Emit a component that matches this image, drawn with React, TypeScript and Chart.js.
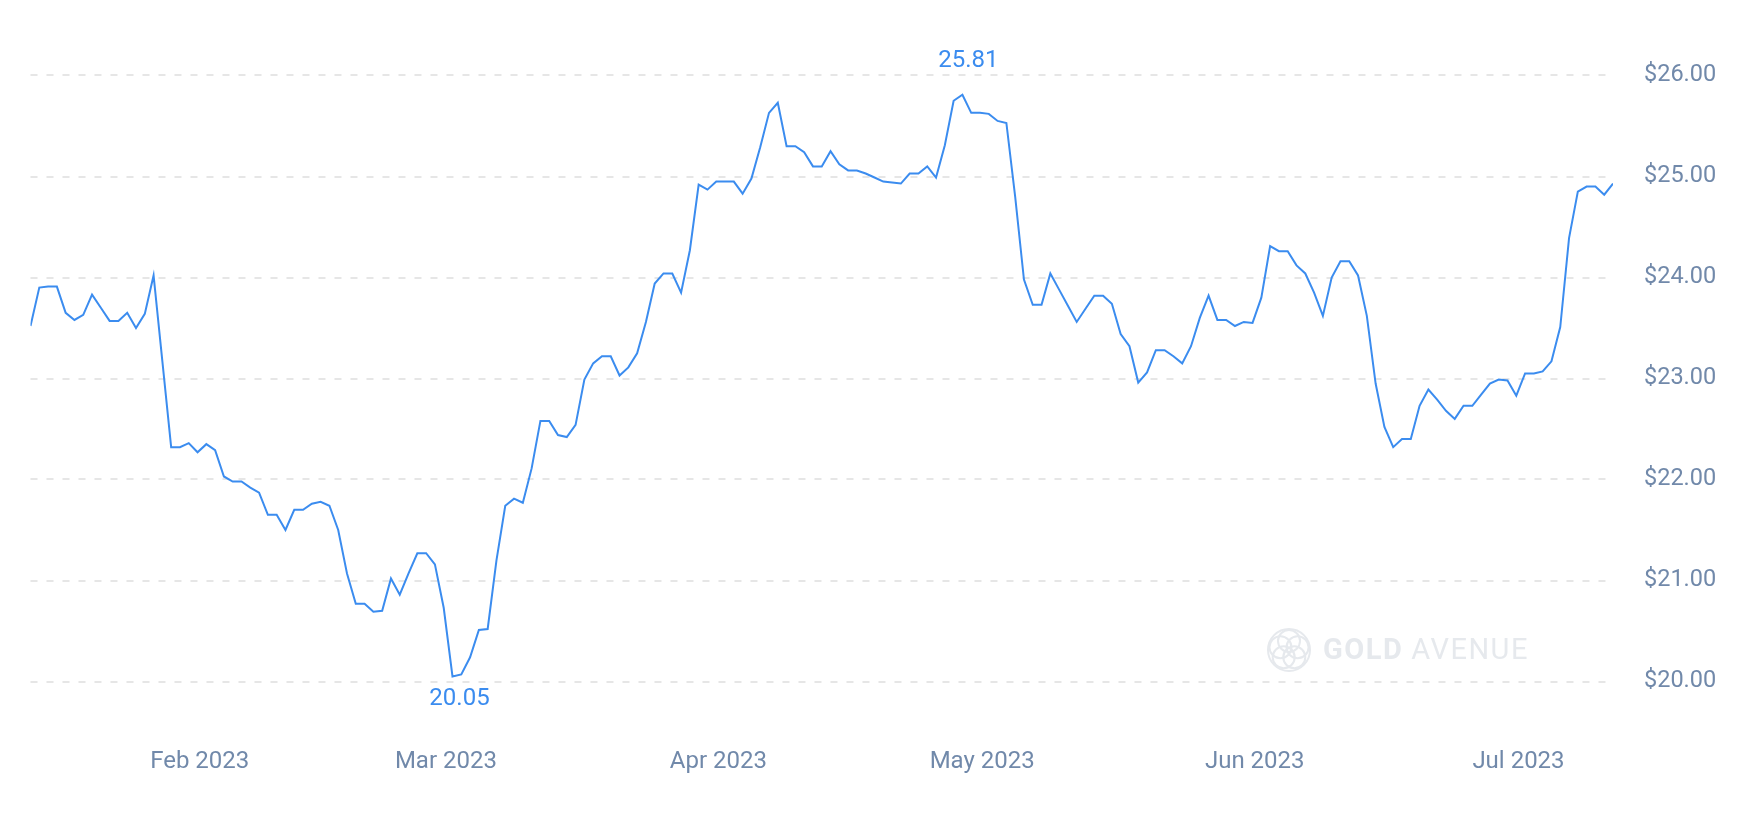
import React, { useEffect, useRef } from "react";
import { Chart, registerables } from "chart.js";

Chart.register(...registerables);

// Daily silver price (USD/oz), starting 2023-01-12
const START_DATE = "2023-01-12";
const janPrices = [23.52, 23.9, 23.91, 23.91, 23.65, 23.58, 23.63, 23.83, 23.7, 23.57, 23.57, 23.65, 23.5, 23.64, 24.02, 23.17, 22.32, 22.32, 22.36, 22.27];
const febPrices = [22.35, 22.29, 22.03, 21.98, 21.98, 21.92, 21.87, 21.65, 21.65, 21.5, 21.7, 21.7, 21.76, 21.78, 21.74, 21.5, 21.07, 20.77, 20.77, 20.69, 20.7, 21.02, 20.86, 21.07, 21.27, 21.27, 21.16, 20.73];
const marPrices = [20.05, 20.07, 20.24, 20.51, 20.52, 21.2, 21.74, 21.81, 21.77, 22.11, 22.58, 22.58, 22.44, 22.42, 22.54, 22.99, 23.15, 23.22, 23.22, 23.03, 23.11, 23.25, 23.56, 23.94, 24.04, 24.04, 23.85, 24.27, 24.92, 24.87, 24.95];
const aprPrices = [24.95, 24.95, 24.83, 24.98, 25.29, 25.63, 25.73, 25.3, 25.3, 25.24, 25.1, 25.1, 25.25, 25.12, 25.06, 25.06, 25.03, 24.99, 24.95, 24.94, 24.93, 25.03, 25.03, 25.1, 24.99, 25.31, 25.75, 25.81, 25.63, 25.63];
const mayPrices = [25.62, 25.55, 25.53, 24.8, 23.98, 23.73, 23.73, 24.04, 23.88, 23.72, 23.56, 23.69, 23.82, 23.82, 23.74, 23.44, 23.32, 22.96, 23.06, 23.28, 23.28, 23.22, 23.15, 23.32, 23.6, 23.82, 23.58, 23.58, 23.52, 23.56, 23.55];
const junPrices = [23.8, 24.31, 24.26, 24.26, 24.12, 24.04, 23.85, 23.62, 24.0, 24.16, 24.16, 24.02, 23.62, 22.95, 22.52, 22.32, 22.4, 22.4, 22.73, 22.89, 22.79, 22.68, 22.6, 22.73, 22.73, 22.84, 22.95, 22.99, 22.98, 22.83];
const julPrices = [23.05, 23.05, 23.07, 23.17, 23.51, 24.39, 24.85, 24.9, 24.9, 24.82, 24.93];

const monthTickDates = ["2023-02-01", "2023-03-01", "2023-04-01", "2023-05-01", "2023-06-01", "2023-07-01"];
const monthTickLabels = ["Feb 2023", "Mar 2023", "Apr 2023", "May 2023", "Jun 2023", "Jul 2023"];
const priceTicks = [20, 21, 22, 23, 24, 25, 26];

const DAY_MS = 86400000;
const TICK_SHIFT_DAYS = -0.75;
const dayIndex = (d: string) => Math.round((Date.parse(d) - Date.parse(START_DATE)) / DAY_MS);

const LINE_COLOR = "#3b8cef";
const TICK_COLOR = "#7189aa";
const GRID_COLOR = "#e6e6e6";
const FONT_FAMILY = "Roboto, 'Noto Sans', sans-serif";

const allPrices = [...janPrices, ...febPrices, ...marPrices, ...aprPrices, ...mayPrices, ...junPrices, ...julPrices];
const points = allPrices.map((v, i) => ({ x: i, y: v }));
const monthTickValues = monthTickDates.map((d) => dayIndex(d) + TICK_SHIFT_DAYS);

const extremesPlugin = {
  id: "extremes",
  afterDatasetsDraw(chart: any) {
    const xs = chart.scales.x;
    const ys = chart.scales.y;
    let maxI = 0;
    let minI = 0;
    allPrices.forEach((v, i) => {
      if (v > allPrices[maxI]) maxI = i;
      if (v < allPrices[minI]) minI = i;
    });
    const ctx = chart.ctx;
    ctx.save();
    ctx.fillStyle = LINE_COLOR;
    ctx.font = `24px ${FONT_FAMILY}`;
    ctx.textAlign = "center";
    ctx.textBaseline = "middle";
    ctx.fillText(allPrices[maxI].toFixed(2), xs.getPixelForValue(maxI) + 6, ys.getPixelForValue(allPrices[maxI]) - 34);
    ctx.fillText(allPrices[minI].toFixed(2), xs.getPixelForValue(minI) + 7, ys.getPixelForValue(allPrices[minI]) + 23);
    ctx.restore();
  },
};

const watermarkPlugin = {
  id: "watermark",
  beforeDatasetsDraw(chart: any) {
    const { ctx, chartArea } = chart;
    const cx = chartArea.right - 324;
    const cy = chartArea.bottom - 82;
    const col = "#e6e9ed";
    ctx.save();
    ctx.strokeStyle = col;
    ctx.lineWidth = 2;
    ctx.beginPath();
    ctx.arc(cx, cy, 21, 0, Math.PI * 2);
    ctx.stroke();
    const r = 11;
    const off = 9;
    for (let k = 0; k < 5; k++) {
      const a = -Math.PI / 2 + (k * 2 * Math.PI) / 5;
      ctx.beginPath();
      ctx.arc(cx + off * Math.cos(a), cy + off * Math.sin(a), r, 0, Math.PI * 2);
      ctx.stroke();
    }
    ctx.fillStyle = col;
    ctx.textBaseline = "middle";
    ctx.textAlign = "left";
    (ctx as any).letterSpacing = "1.5px";
    ctx.font = `bold 29px ${FONT_FAMILY}`;
    const tx = cx + 34;
    ctx.fillText("GOLD", tx, cy + 2);
    const w = ctx.measureText("GOLD").width;
    ctx.font = `29px ${FONT_FAMILY}`;
    ctx.fillText("AVENUE", tx + w + 8, cy + 2);
    ctx.restore();
  },
};

export default function App() {
  const canvasRef = useRef<HTMLCanvasElement | null>(null);

  useEffect(() => {
    if (!canvasRef.current) return;
    const chart = new Chart(canvasRef.current, {
      type: "line",
      data: {
        datasets: [
          {
            data: points,
            borderColor: LINE_COLOR,
            borderWidth: 2,
            pointRadius: 0,
            tension: 0,
            fill: false,
          },
        ],
      },
      options: {
        animation: false,
        responsive: false,
        maintainAspectRatio: false,
        layout: { padding: { left: 30.5, top: 25, right: 0, bottom: 0 } },
        plugins: { legend: { display: false }, tooltip: { enabled: false } },
        scales: {
          x: {
            type: "linear",
            min: 0,
            max: allPrices.length - 1,
            grid: { display: false, drawTicks: false },
            border: { display: false },
            afterBuildTicks: (axis: any) => {
              axis.ticks = monthTickValues.map((v) => ({ value: v }));
            },
            afterFit: (axis: any) => {
              axis.height = 82;
            },
            ticks: {
              autoSkip: false,
              maxRotation: 0,
              padding: 16,
              color: TICK_COLOR,
              font: { family: FONT_FAMILY, size: 24 },
              callback: (_v: any, i: number) => monthTickLabels[i],
            },
          },
          y: {
            position: "right",
            min: 19.5,
            max: 26.5,
            afterBuildTicks: (axis: any) => {
              axis.ticks = priceTicks.map((v) => ({ value: v }));
            },
            afterFit: (axis: any) => {
              axis.width = 129;
            },
            grid: { color: GRID_COLOR, lineWidth: 2, drawTicks: true, tickLength: 31, tickColor: "rgba(0,0,0,0)" },
            border: { display: false, dash: [7, 9] },
            ticks: {
              padding: 0,
              color: TICK_COLOR,
              font: { family: FONT_FAMILY, size: 23.5 },
              callback: (v: any) => "$" + Number(v).toFixed(2),
            },
          },
        },
      },
      plugins: [watermarkPlugin, extremesPlugin],
    } as any);
    return () => chart.destroy();
  }, []);

  return (
    <div style={{ position: "absolute", left: 0, top: 0, width: 1742, height: 814, background: "#fff" }}>
      <canvas ref={canvasRef} width={1742} height={814} style={{ display: "block" }} />
    </div>
  );
}
